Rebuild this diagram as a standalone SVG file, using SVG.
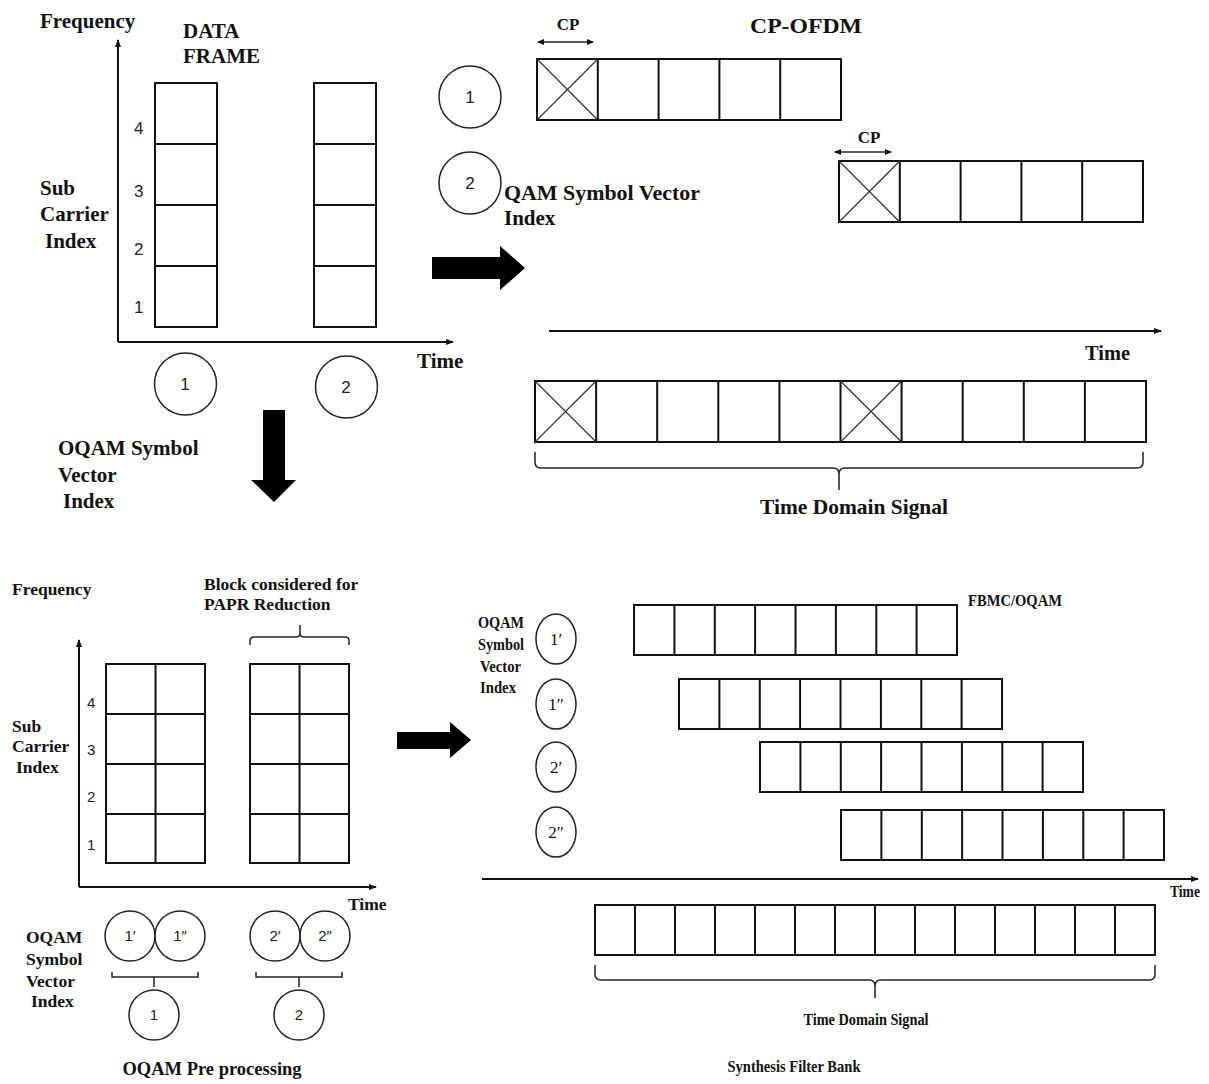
<svg xmlns="http://www.w3.org/2000/svg" width="1209" height="1084" viewBox="0 0 1209 1084">
<defs>
<style>
.t{font-family:"Liberation Serif","Times New Roman",serif;font-weight:bold;fill:#111}
.s{font-family:"Liberation Serif","Times New Roman",serif;font-weight:normal;fill:#111}
.n{font-family:"Liberation Sans",Arial,sans-serif;fill:#222}
.box{fill:#fff;stroke:#111;stroke-width:2}
.ln{stroke:#111;stroke-width:2;fill:none}
.thin{stroke:#222;stroke-width:1.5;fill:none}
.xl{stroke:#333;stroke-width:1.2}
.circ{fill:#fff;stroke:#222;stroke-width:1.5}
.blk{fill:#000}
</style>
<marker id="ah" markerWidth="8" markerHeight="6" refX="7" refY="3" orient="auto" markerUnits="userSpaceOnUse">
<path d="M0,0 L8,3 L0,6 z" fill="#111"/>
</marker>
<marker id="ahs" markerWidth="7" markerHeight="6" refX="6" refY="3" orient="auto-start-reverse" markerUnits="userSpaceOnUse">
<path d="M0,0 L7,3 L0,6 z" fill="#111"/>
</marker>
</defs>
<rect width="1209" height="1084" fill="#fff"/>

<!-- Top-left data frame -->
<g id="data-frame">
<text class="t" x="40" y="28" font-size="21">Frequency</text>
<text class="t" x="183" y="38" font-size="21">DATA</text>
<text class="t" x="183" y="63" font-size="21">FRAME</text>
<text class="t" x="40" y="195" font-size="21">Sub</text>
<text class="t" x="40" y="221" font-size="21">Carrier</text>
<text class="t" x="45" y="248" font-size="21">Index</text>
<text class="t" x="417" y="368" font-size="21">Time</text>
<text class="n" x="134" y="134" font-size="17">4</text>
<text class="n" x="134" y="197" font-size="17">3</text>
<text class="n" x="134" y="255" font-size="17">2</text>
<text class="n" x="134" y="313" font-size="17">1</text>
<rect class="box" x="155" y="83" width="62" height="244"/>
<path class="ln" d="M155,144H217M155,205H217M155,266H217"/>
<rect class="box" x="314" y="83" width="62" height="244"/>
<path class="ln" d="M314,144H376M314,205H376M314,266H376"/>
</g>
<g id="tl-circle-1"><circle class="circ" cx="185.5" cy="384" r="31"/><text class="n" x="185" y="390" font-size="17" text-anchor="middle">1</text></g>
<g id="tl-circle-2"><circle class="circ" cx="346.5" cy="387" r="31"/><text class="n" x="346" y="393" font-size="17" text-anchor="middle">2</text></g>
<g id="oqam-label-mid">
<text class="t" x="58" y="455" font-size="21">OQAM Symbol</text>
<text class="t" x="58" y="482" font-size="21">Vector</text>
<text class="t" x="63" y="508" font-size="21">Index</text>
</g>

<!-- Top-right CP-OFDM -->
<g id="cp-ofdm">
<text class="t" x="750" y="33" font-size="20" textLength="112" lengthAdjust="spacingAndGlyphs">CP-OFDM</text>
<text class="t" x="568" y="30" font-size="17" text-anchor="middle">CP</text>
<text class="t" x="869" y="143" font-size="17" text-anchor="middle">CP</text>
<text class="t" x="504" y="200" font-size="21" textLength="196" lengthAdjust="spacingAndGlyphs">QAM Symbol Vector</text>
<text class="t" x="504" y="225" font-size="21">Index</text>
</g>
<g id="tr-circle-1"><circle class="circ" cx="470" cy="97" r="31"/><text class="n" x="470" y="103" font-size="17" text-anchor="middle">1</text></g>
<g id="tr-circle-2"><circle class="circ" cx="470" cy="183" r="31"/><text class="n" x="470" y="189" font-size="17" text-anchor="middle">2</text></g>
<g id="symbol-1">
<rect class="box" x="537" y="59" width="304" height="61"/>
<path class="ln" d="M597.8,59V120M658.6,59V120M719.4,59V120M780.2,59V120"/>
<path class="xl" d="M537,59L597.8,120M597.8,59L537,120"/>
</g>
<g id="symbol-2">
<rect class="box" x="839" y="161" width="304" height="61"/>
<path class="ln" d="M899.8,161V222M960.6,161V222M1021.4,161V222M1082.2,161V222"/>
<path class="xl" d="M839,161L899.8,222M899.8,161L839,222"/>
</g>
<g id="time-domain-top">
<text class="t" x="1085" y="360" font-size="20" textLength="45" lengthAdjust="spacingAndGlyphs">Time</text>
<rect class="box" x="535" y="381" width="611" height="61"/>
<path class="ln" d="M596.1,381V442M657.2,381V442M718.3,381V442M779.4,381V442M840.5,381V442M901.6,381V442M962.7,381V442M1023.8,381V442M1084.9,381V442"/>
<path class="xl" d="M535,381L596.1,442M596.1,381L535,442M840.5,381L901.6,442M901.6,381L840.5,442"/>
<text class="t" x="854" y="514" font-size="21" text-anchor="middle" textLength="188" lengthAdjust="spacingAndGlyphs">Time Domain Signal</text>
</g>

<!-- Bottom-left OQAM pre processing -->
<g id="oqam-pre">
<text class="t" x="12" y="595" font-size="17.5">Frequency</text>
<text class="t" x="204" y="590" font-size="17.5">Block considered for</text>
<text class="t" x="204" y="610" font-size="17.5">PAPR Reduction</text>
<text class="t" x="12" y="732" font-size="17.5">Sub</text>
<text class="t" x="12" y="752" font-size="17.5">Carrier</text>
<text class="t" x="16" y="773" font-size="17.5">Index</text>
<text class="n" x="87" y="708" font-size="15">4</text>
<text class="n" x="87" y="755" font-size="15">3</text>
<text class="n" x="87" y="802" font-size="15">2</text>
<text class="n" x="87" y="850" font-size="15">1</text>
<text class="t" x="348" y="910" font-size="17.5">Time</text>
<rect class="box" x="106" y="664" width="99" height="199"/>
<path class="ln" d="M155.5,664V863M106,714H205M106,764H205M106,814H205"/>
<rect class="box" x="250" y="664" width="99" height="199"/>
<path class="ln" d="M299.5,664V863M250,714H349M250,764H349M250,814H349"/>
<text class="t" x="26" y="943" font-size="17.5">OQAM</text>
<text class="t" x="26" y="965" font-size="17.5">Symbol</text>
<text class="t" x="26" y="987" font-size="17.5">Vector</text>
<text class="t" x="31" y="1007" font-size="17.5">Index</text>
<text class="t" x="212" y="1075" font-size="18.5" text-anchor="middle">OQAM Pre processing</text>
</g>
<g id="bl-c1p"><circle class="circ" cx="130" cy="936" r="25"/><text class="n" x="130" y="941" font-size="15" text-anchor="middle">1′</text></g>
<g id="bl-c1pp"><circle class="circ" cx="180" cy="936" r="25"/><text class="n" x="180" y="941" font-size="15" text-anchor="middle">1″</text></g>
<g id="bl-c2p"><circle class="circ" cx="275" cy="936" r="25"/><text class="n" x="275" y="941" font-size="15" text-anchor="middle">2′</text></g>
<g id="bl-c2pp"><circle class="circ" cx="325" cy="936" r="25"/><text class="n" x="325" y="941" font-size="15" text-anchor="middle">2″</text></g>
<g id="bl-c1"><circle class="circ" cx="154" cy="1015" r="25"/><text class="n" x="154" y="1020" font-size="15" text-anchor="middle">1</text></g>
<g id="bl-c2"><circle class="circ" cx="299" cy="1015" r="25"/><text class="n" x="299" y="1020" font-size="15" text-anchor="middle">2</text></g>

<!-- Bottom-right FBMC/OQAM -->
<g id="fbmc">
<text class="t" x="968" y="606" font-size="17" textLength="94" lengthAdjust="spacingAndGlyphs">FBMC/OQAM</text>
<text class="t" x="478" y="628" font-size="16" textLength="46" lengthAdjust="spacingAndGlyphs">OQAM</text>
<text class="t" x="478" y="650" font-size="16" textLength="46" lengthAdjust="spacingAndGlyphs">Symbol</text>
<text class="t" x="480" y="672" font-size="16" textLength="41" lengthAdjust="spacingAndGlyphs">Vector</text>
<text class="t" x="480" y="693" font-size="16" textLength="36" lengthAdjust="spacingAndGlyphs">Index</text>
<text class="t" x="1170" y="897" font-size="16" textLength="30" lengthAdjust="spacingAndGlyphs">Time</text>
<text class="t" x="866" y="1025" font-size="17" text-anchor="middle" textLength="125" lengthAdjust="spacingAndGlyphs">Time Domain Signal</text>
<text class="t" x="794" y="1072" font-size="17" text-anchor="middle" textLength="133" lengthAdjust="spacingAndGlyphs">Synthesis Filter Bank</text>
</g>
<g id="br-e1p"><ellipse class="circ" cx="556" cy="639" rx="20" ry="25"/><text class="s" x="556" y="645" font-size="17" text-anchor="middle">1′</text></g>
<g id="br-e1pp"><ellipse class="circ" cx="556" cy="704" rx="20" ry="25"/><text class="s" x="556" y="710" font-size="17" text-anchor="middle">1″</text></g>
<g id="br-e2p"><ellipse class="circ" cx="556" cy="767" rx="20" ry="25"/><text class="s" x="556" y="773" font-size="17" text-anchor="middle">2′</text></g>
<g id="br-e2pp"><ellipse class="circ" cx="556" cy="832" rx="20" ry="25"/><text class="s" x="556" y="838" font-size="17" text-anchor="middle">2″</text></g>
<g id="row-1p">
<rect class="box" x="634" y="605" width="323" height="50"/>
<path class="ln" d="M674.4,605V655M714.8,605V655M755.1,605V655M795.5,605V655M835.9,605V655M876.3,605V655M916.6,605V655"/>
</g>
<g id="row-1pp">
<rect class="box" x="679" y="679" width="323" height="50"/>
<path class="ln" d="M719.4,679V729M759.8,679V729M800.1,679V729M840.5,679V729M880.9,679V729M921.3,679V729M961.6,679V729"/>
</g>
<g id="row-2p">
<rect class="box" x="760" y="742" width="323" height="50"/>
<path class="ln" d="M800.4,742V792M840.8,742V792M881.1,742V792M921.5,742V792M961.9,742V792M1002.3,742V792M1042.6,742V792"/>
</g>
<g id="row-2pp">
<rect class="box" x="841" y="810" width="323" height="50"/>
<path class="ln" d="M881.4,810V860M921.8,810V860M962.1,810V860M1002.5,810V860M1042.9,810V860M1083.3,810V860M1123.6,810V860"/>
</g>
<g id="time-domain-bottom">
<rect class="box" x="595" y="905" width="560" height="50"/>
<path class="ln" d="M635,905V955M675,905V955M715,905V955M755,905V955M795,905V955M835,905V955M875,905V955M915,905V955M955,905V955M995,905V955M1035,905V955M1075,905V955M1115,905V955"/>
</g>

<!-- Connectors, axes, braces, block arrows -->
<g id="connectors">
<path class="ln" d="M118,342V40" marker-end="url(#ah)"/>
<path class="ln" d="M118,342H453" marker-end="url(#ah)"/>
<path class="ln" d="M79,887V640" marker-end="url(#ah)"/>
<path class="ln" d="M79,887H376" marker-end="url(#ah)"/>
<path class="ln" d="M549,331H1161" marker-end="url(#ah)"/>
<path class="ln" d="M482,879H1198" marker-end="url(#ah)"/>
<path class="thin" d="M538,42H593" marker-start="url(#ahs)" marker-end="url(#ahs)"/>
<path class="thin" d="M835,152H891" marker-start="url(#ahs)" marker-end="url(#ahs)"/>
<path class="thin" d="M535,452V462Q535,468 541,468H833Q839,468 839,474Q839,468 845,468H1137Q1143,468 1143,462V452M839,474V490"/>
<path class="thin" d="M595,965V974Q595,980 601,980H869Q875,980 875,986Q875,980 881,980H1149Q1155,980 1155,974V965M875,986V998"/>
<path class="thin" d="M250,645V641Q250,637 254,637H296Q300,637 300,633Q300,637 304,637H345Q349,637 349,641V645M300,633V625"/>
<path class="thin" d="M112,972V977H198V972M154,977V987"/>
<path class="thin" d="M256,972V977H342V972M299,977V987"/>
<polygon class="blk" points="432,257 500,257 500,246 525,268 500,290 500,279 432,279"/>
<polygon class="blk" points="263,410 285,410 285,480 296,480 274,502 251,480 263,480"/>
<polygon class="blk" points="397,732 450,732 450,722 471,740 450,758 450,749 397,749"/>
</g>
</svg>
